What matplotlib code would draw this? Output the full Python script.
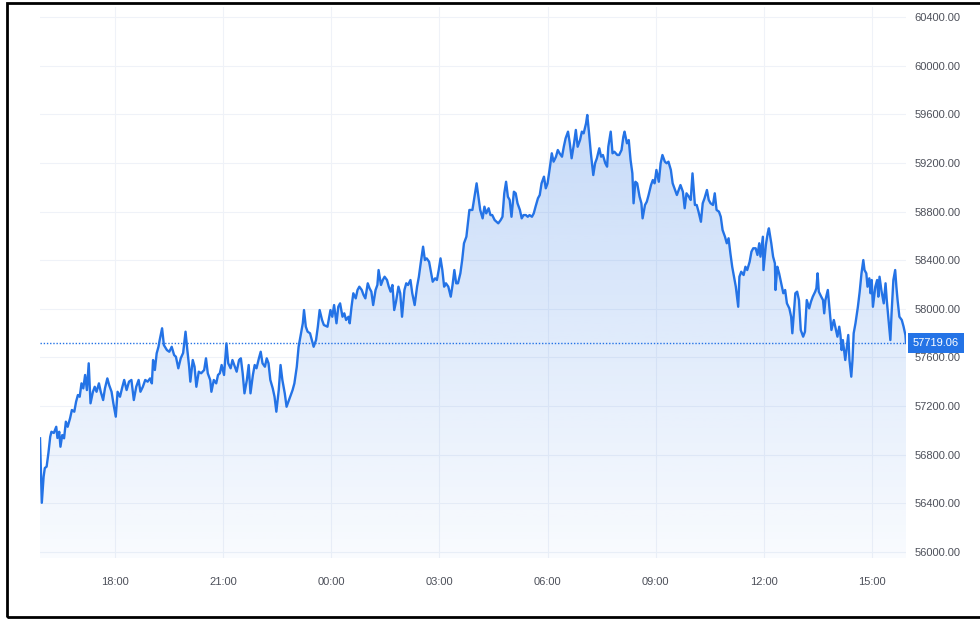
import numpy as np
import pandas as pd
import matplotlib
matplotlib.use("Agg")
import matplotlib.pyplot as plt
import matplotlib.dates as mdates
import matplotlib.font_manager as fm
import matplotlib.transforms as mtransforms
from matplotlib.patches import Rectangle

# minutes after the first tick (15:56) and the price read at that moment
minutes = [
    0, 2, 3, 6, 8, 11, 14, 17, 19, 23,
    27, 29, 32, 34, 37, 40, 43, 46, 50, 53,
    57, 60, 63, 66, 69, 72, 75, 78, 81, 84,
    88, 91, 94, 98, 101, 105, 108, 112, 115, 119,
    122, 126, 129, 133, 137, 140, 144, 148, 152, 156,
    160, 164, 167, 171, 175, 179, 183, 186, 188, 191,
    194, 197, 199, 203, 206, 211, 215, 219, 223, 226,
    230, 234, 238, 242, 245, 248, 250, 254, 257, 260,
    264, 268, 273, 276, 279, 283, 285, 289, 293, 296,
    299, 302, 306, 310, 313, 317, 320, 324, 327, 331,
    334, 337, 340, 344, 347, 350, 354, 357, 360, 364,
    367, 370, 374, 377, 380, 383, 387, 390, 393, 397,
    400, 403, 407, 410, 413, 417, 420, 423, 427, 430,
    433, 437, 439, 442, 445, 449, 452, 455, 459, 462,
    465, 469, 472, 478, 483, 486, 489, 493, 496, 499,
    503, 506, 509, 513, 515, 518, 521, 525, 528, 531,
    535, 538, 541, 545, 548, 551, 554, 558, 561, 563,
    567, 570, 573, 577, 580, 583, 586, 589, 592, 596,
    599, 602, 606, 609, 612, 616, 619, 623, 627, 630,
    633, 637, 640, 643, 647, 650, 653, 657, 660, 663,
    666, 669, 672, 675, 679, 683, 686, 689, 692, 695,
    699, 702, 705, 709, 712, 714, 719, 722, 726, 729,
    732, 736, 739, 742, 746, 749, 752, 756, 759, 762,
    766, 769, 772, 775, 778, 781, 784, 788, 791, 794,
    798, 801, 804, 808, 811, 814, 818, 821, 824, 828,
    831, 834, 838, 841, 844, 848, 851, 854, 858, 861,
    864, 868, 871, 874, 878, 881, 884, 888, 891, 894,
    898, 901, 904, 908, 910, 913, 916, 920, 923, 926,
    930, 933, 936, 940, 943, 945, 949, 952, 955, 960,
    963, 967, 970, 972, 976, 979, 982, 985, 987, 990,
    993, 997, 1000, 1002, 1006, 1009, 1012, 1016, 1019, 1022,
    1025, 1029, 1032, 1035, 1039, 1042, 1045, 1049, 1052, 1055,
    1059, 1062, 1065, 1069, 1072, 1075, 1079, 1082, 1085, 1089,
    1092, 1095, 1099, 1102, 1105, 1109, 1112, 1115, 1119, 1122,
    1125, 1129, 1132, 1135, 1139, 1142, 1145, 1148, 1151, 1154,
    1157, 1161, 1163, 1166, 1170, 1173, 1176, 1180, 1183, 1186,
    1190, 1193, 1196, 1198, 1202, 1203, 1207, 1210, 1212, 1216,
    1219, 1222, 1223, 1226, 1229, 1232, 1236, 1239, 1242, 1246,
    1249, 1251, 1253, 1256, 1259, 1262, 1265, 1269, 1272, 1275,
    1279, 1282, 1285, 1289, 1291, 1293, 1295, 1299, 1302, 1304,
    1306, 1310, 1313, 1316, 1320, 1323, 1326, 1329, 1331, 1333,
    1335, 1339, 1341, 1344, 1346, 1349, 1351, 1353, 1356, 1360,
    1363, 1366, 1369, 1371, 1374, 1376, 1379, 1381, 1383, 1385,
    1389, 1392, 1394, 1396, 1399, 1403, 1406, 1408, 1412, 1414,
    1416, 1419, 1422, 1424, 1426, 1429, 1433, 1436, 1439, 1440,
]
price = [
    56935, 56567, 56405, 56619, 56691, 56702, 56814, 56948, 56989, 56979,
    57030, 56938, 56989, 56866, 56962, 56935, 57072, 57030, 57100, 57168,
    57154, 57236, 57291, 57277, 57387, 57346, 57456, 57332, 57552, 57223,
    57318, 57359, 57318, 57387, 57318, 57250, 57346, 57428, 57373, 57318,
    57223, 57113, 57318, 57277, 57359, 57415, 57332, 57401, 57415, 57250,
    57359, 57415, 57318, 57359, 57415, 57401, 57428, 57387, 57579, 57497,
    57634, 57688, 57743, 57840, 57702, 57661, 57647, 57688, 57620, 57606,
    57511, 57593, 57637, 57812, 57661, 57524, 57401, 57579, 57524, 57359,
    57483, 57470, 57497, 57593, 57470, 57415, 57318, 57415, 57387, 57456,
    57470, 57538, 57456, 57716, 57552, 57511, 57579, 57524, 57483, 57579,
    57593, 57470, 57305, 57415, 57538, 57305, 57456, 57538, 57511, 57593,
    57647, 57552, 57524, 57593, 57552, 57415, 57346, 57277, 57154, 57332,
    57538, 57415, 57305, 57195, 57236, 57291, 57332, 57387, 57524, 57688,
    57771, 57881, 57990, 57853, 57812, 57799, 57743, 57688, 57743, 57853,
    57990, 57908, 57867, 57853, 57990, 57935, 58031, 57881, 58017, 58045,
    57935, 57963, 57908, 57935, 57881, 58017, 58128, 58086, 58155, 58182,
    58155, 58114, 58086, 58210, 58169, 58141, 58031, 58155, 58196, 58319,
    58196, 58237, 58264, 58237, 58182, 58141, 58196, 57990, 58059, 58182,
    58128, 57935, 58155, 58210, 58196, 58237, 58128, 58031, 58182, 58264,
    58374, 58511, 58401, 58415, 58387, 58305, 58223, 58251, 58237, 58319,
    58415, 58319, 58182, 58210, 58182, 58100, 58196, 58319, 58210, 58210,
    58292, 58401, 58539, 58593, 58730, 58813, 58813, 58909, 59032, 58922,
    58813, 58744, 58840, 58785, 58827, 58771, 58771, 58730, 58716, 58703,
    58730, 58757, 58950, 59045, 58922, 58895, 58757, 58963, 58950, 58868,
    58813, 58744, 58771, 58771, 58757, 58771, 58757, 58785, 58840, 58909,
    58936, 59032, 59087, 58991, 59032, 59169, 59279, 59210, 59251, 59306,
    59279, 59251, 59333, 59402, 59457, 59361, 59238, 59361, 59471, 59333,
    59388, 59457, 59443, 59526, 59594, 59443, 59279, 59100, 59197, 59238,
    59320, 59251, 59265, 59197, 59169, 59333, 59457, 59279, 59292, 59265,
    59265, 59306, 59415, 59457, 59361, 59388, 59224, 59114, 58868, 59045,
    59032, 58922, 58868, 58744, 58854, 58881, 58936, 59018, 59059, 59032,
    59142, 59045, 59197, 59265, 59210, 59197, 59210, 59142, 59032, 58991,
    58936, 58977, 59018, 58963, 58827, 58950, 58922, 58895, 59114, 58854,
    58854, 58799, 58716, 58868, 58909, 58977, 58895, 58868, 58854, 58950,
    58813, 58799, 58757, 58648, 58593, 58539, 58580, 58456, 58346, 58264,
    58182, 58017, 58264, 58305, 58278, 58346, 58319, 58387, 58470, 58498,
    58498, 58443, 58539, 58429, 58593, 58319, 58525, 58621, 58662, 58539,
    58429, 58374, 58155, 58346, 58292, 58223, 58128, 58155, 58045, 58004,
    57935, 57799, 57935, 58128, 58141, 58072, 57826, 57771, 57812, 58072,
    58004, 58059, 58100, 58141, 58169, 58292, 58141, 58100, 58072, 57963,
    58072, 58155, 57990, 57826, 57908, 57840, 57771, 57853, 57785, 57661,
    57743, 57579, 57661, 57785, 57579, 57442, 57579, 57799, 57881, 58017,
    58141, 58292, 58401, 58319, 58292, 58182, 58251, 58128, 58237, 58017,
    58182, 58237, 58100, 58264, 58155, 58045, 58210, 58072, 57853, 57743,
    57963, 58237, 58319, 58182, 58072, 57935, 57908, 57853, 57785, 57719.06,
]
start = "2021-04-14 15:56"
last_price = 57719.06
y_ticks = [56000, 56400, 56800, 57200, 57600, 58000, 58400, 58800,
           59200, 59600, 60000, 60400]

blue = "#2473e6"
txt = "#4d505a"

names = {f.name for f in fm.fontManager.ttflist}
fnt = "Liberation Sans Narrow" if "Liberation Sans Narrow" in names else "Liberation Sans"
plt.rcParams["font.family"] = [fnt, "DejaVu Sans"]

t = pd.Timestamp(start) + pd.to_timedelta(minutes, unit="min")
tn = mdates.date2num(t.to_pydatetime())
p = np.array(price)

fig = plt.figure(figsize=(9.8, 6.19), dpi=100)
ax = fig.add_axes([40 / 980, 1 - 558 / 619, 866 / 980, 551 / 619])
y0, y1 = 55951, 60482
ax.set_xlim(tn[0], tn[-1])
ax.set_ylim(y0, y1)

# gradient fill under the line
rgba = np.zeros((256, 1, 4))
rgba[..., 0] = 41 / 255
rgba[..., 1] = 118 / 255
rgba[..., 2] = 230 / 255
rgba[..., 3] = np.linspace(0.32, 0.03, 256).reshape(-1, 1)
im = ax.imshow(rgba, extent=[tn[0], tn[-1], y0, y1], aspect="auto",
               origin="upper", zorder=1)
poly = ax.fill_between(tn, p, y0, facecolor="none", edgecolor="none")
im.set_clip_path(poly.get_paths()[0], transform=ax.transData)

ax.plot(tn, p, color=blue, lw=1.7, zorder=3, solid_joinstyle="round")
ax.axhline(last_price, color=blue, lw=1.0, ls=(0, (1, 1.3)), zorder=2)

ax.set_yticks(y_ticks)
ax.yaxis.tick_right()
ax.yaxis.set_major_formatter(matplotlib.ticker.StrMethodFormatter("{x:.2f}"))
ax.xaxis.set_major_locator(mdates.HourLocator(byhour=range(0, 24, 3)))
ax.xaxis.set_major_formatter(mdates.DateFormatter("%H:%M"))
ax.tick_params(axis="y", length=0, pad=6, labelsize=8, labelcolor=txt)
ax.tick_params(axis="x", length=0, pad=14, labelsize=8, labelcolor=txt)
ax.grid(True, color="#eff2f8", lw=0.8, zorder=0)
ax.set_axisbelow(True)
for s in ax.spines.values():
    s.set_visible(False)

# last price tag on the scale
tag_tr = mtransforms.offset_copy(ax.get_yaxis_transform(), fig=fig, x=5, y=0, units="points")
ax.text(1.0, last_price, f"{last_price:.2f}", transform=tag_tr,
        ha="left", va="center", fontsize=8, color="white", zorder=5,
        bbox=dict(boxstyle="square,pad=0.45", fc=blue, ec="none"), clip_on=False)

fig.add_artist(Rectangle((6.5 / 980, 2.5 / 619), 1.0, 614 / 619, transform=fig.transFigure,
                         fill=False, ec="black", lw=2.0, clip_on=False))

fig.savefig("out.png", dpi=100)
